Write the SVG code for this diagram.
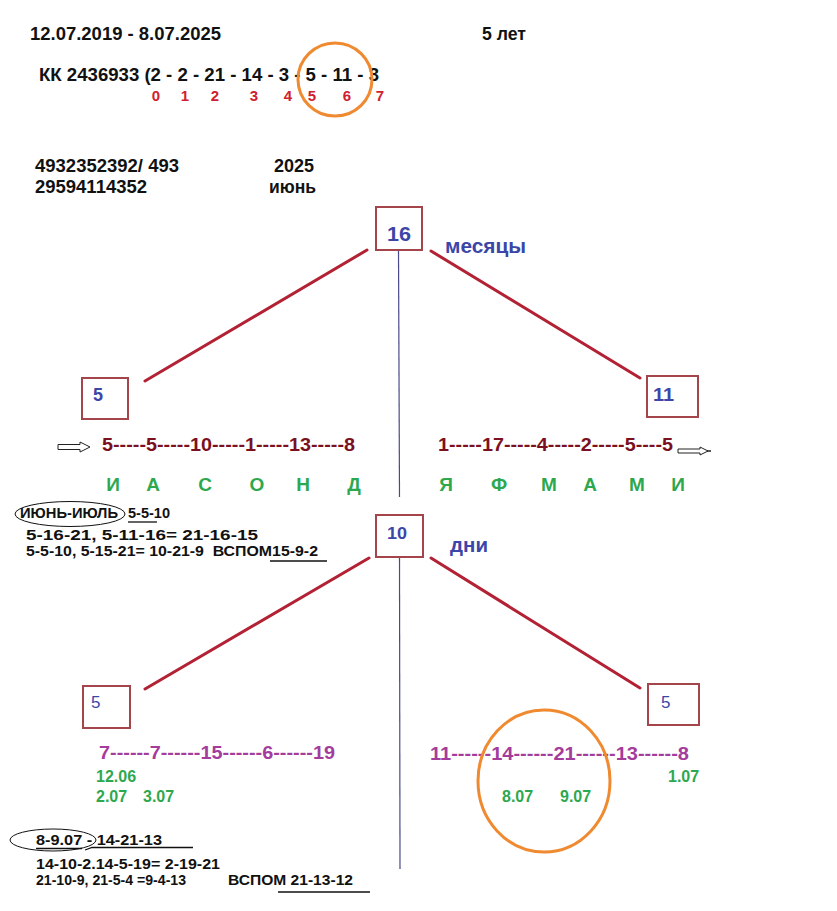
<svg xmlns="http://www.w3.org/2000/svg" width="837" height="911" viewBox="0 0 837 911">
<style>
text{font-family:"Liberation Sans",Arial,sans-serif;font-weight:bold}
.blk{fill:#111;font-size:19px}
.idx{fill:#d0202e;font-size:15px;text-anchor:middle}
.box{fill:#fff;stroke:#a3454b;stroke-width:2}
.bl{fill:#3b46a8}
.mar{fill:#7b1020;font-size:19px}
.grn{fill:#2ea84e;font-size:19px;text-anchor:middle}
.pur{fill:#a43c9c;font-size:19px}
.dt{fill:#2ea84e;font-size:16px}
.note{fill:#111;font-size:15px}
.red{stroke:#b22234;stroke-width:3;stroke-linecap:round;fill:none}
.vl{stroke:#4a4a8a;stroke-width:1.2}
.org{fill:none;stroke:#f08a30;stroke-width:3}
.ul{stroke:#111;stroke-width:1.3}
.ell{fill:none;stroke:#111;stroke-width:1}
</style>
<rect width="837" height="911" fill="#fff"/>

<g id="header">
<text class="blk" x="30" y="40" textLength="191" lengthAdjust="spacingAndGlyphs">12.07.2019 - 8.07.2025</text>
<text class="blk" x="482" y="40" textLength="44" lengthAdjust="spacingAndGlyphs">5 лет</text>
<text class="blk" x="39" y="81" textLength="340" lengthAdjust="spacingAndGlyphs">КК 2436933 (2 - 2 - 21 - 14 - 3 - 5 - 11 - 3</text>
<text class="idx" x="156" y="101">0</text>
<text class="idx" x="185" y="101">1</text>
<text class="idx" x="215" y="101">2</text>
<text class="idx" x="254" y="101">3</text>
<text class="idx" x="288" y="101">4</text>
<text class="idx" x="312" y="101">5</text>
<text class="idx" x="347" y="101">6</text>
<text class="idx" x="380" y="101">7</text>
<ellipse class="org" cx="335" cy="79.5" rx="37" ry="36.5"/>
<text class="blk" x="35" y="172" textLength="144" lengthAdjust="spacingAndGlyphs">4932352392/ 493</text>
<text class="blk" x="35" y="193" textLength="112" lengthAdjust="spacingAndGlyphs">29594114352</text>
<text class="blk" x="274" y="172" textLength="40" lengthAdjust="spacingAndGlyphs">2025</text>
<text class="blk" x="269" y="193" textLength="47" lengthAdjust="spacingAndGlyphs">июнь</text>
</g>

<g id="connectors">
<line class="vl" x1="398.5" y1="250" x2="399.5" y2="497"/>
<line class="vl" x1="399.5" y1="557" x2="400" y2="869"/>
<line class="red" x1="367" y1="250" x2="145" y2="381"/>
<line class="red" x1="431" y1="251" x2="640" y2="378"/>
<line class="red" x1="369" y1="558" x2="145" y2="689"/>
<line class="red" x1="431" y1="558" x2="640" y2="688"/>
</g>

<g id="node-16">
<rect class="box" x="376" y="207" width="46" height="43"/>
<text class="bl" x="387" y="241" font-size="20" textLength="24" lengthAdjust="spacingAndGlyphs">16</text>
<text class="bl" x="445" y="253" font-size="20" textLength="81" lengthAdjust="spacingAndGlyphs">месяцы</text>
</g>

<g id="node-5-top">
<rect class="box" x="82" y="378" width="46" height="41"/>
<text class="bl" x="93" y="401" font-size="18">5</text>
</g>

<g id="node-11">
<rect class="box" x="647" y="376" width="51" height="41"/>
<text class="bl" x="653" y="401" font-size="18" textLength="21" lengthAdjust="spacingAndGlyphs">11</text>
</g>

<g id="months">
<polygon points="58,444.5 80,444.5 80,442 90,447 80,452 80,449.5 58,449.5" fill="#fff" stroke="#222" stroke-width="1"/>
<text class="mar" x="102" y="451" textLength="253" lengthAdjust="spacingAndGlyphs">5-----5-----10-----1-----13-----8</text>
<text class="mar" x="438" y="451" textLength="235" lengthAdjust="spacingAndGlyphs">1-----17-----4-----2-----5----5</text>
<polygon points="678,449 700,449 700,447 708,451 700,455 700,453 678,453" fill="#fff" stroke="#222" stroke-width="1"/>
<line x1="707" y1="451" x2="711" y2="451" stroke="#222" stroke-width="1.5"/>
<text class="grn" x="113" y="491">И</text>
<text class="grn" x="153" y="491">А</text>
<text class="grn" x="205" y="491">С</text>
<text class="grn" x="257" y="491">О</text>
<text class="grn" x="303" y="491">Н</text>
<text class="grn" x="354" y="491">Д</text>
<text class="grn" x="446" y="491">Я</text>
<text class="grn" x="499" y="491">Ф</text>
<text class="grn" x="549" y="491">М</text>
<text class="grn" x="590" y="491">А</text>
<text class="grn" x="637" y="491">М</text>
<text class="grn" x="678" y="491">И</text>
</g>

<g id="notes-1">
<ellipse class="ell" cx="70" cy="514" rx="55" ry="12.5"/>
<text class="note" x="20" y="518" font-size="14" textLength="98" lengthAdjust="spacingAndGlyphs">ИЮНЬ-ИЮЛЬ</text>
<text class="note" x="128" y="518" font-size="14" textLength="42" lengthAdjust="spacingAndGlyphs">5-5-10</text>
<line class="ul" x1="128" y1="522" x2="157" y2="522"/>
<text class="note" x="26" y="540" textLength="232" lengthAdjust="spacingAndGlyphs">5-16-21, 5-11-16= 21-16-15</text>
<text class="note" x="26" y="556" textLength="292" lengthAdjust="spacingAndGlyphs">5-5-10, 5-15-21= 10-21-9 &#160;ВСПОМ15-9-2</text>
<line class="ul" x1="270" y1="561" x2="327" y2="561"/>
</g>

<g id="node-10">
<rect class="box" x="376" y="515" width="47" height="42"/>
<text class="bl" x="387" y="539" font-size="17" textLength="20" lengthAdjust="spacingAndGlyphs">10</text>
<text class="bl" x="450" y="552" font-size="20" textLength="38" lengthAdjust="spacingAndGlyphs">дни</text>
</g>

<g id="node-5-left">
<rect class="box" x="83" y="686" width="47" height="42"/>
<text class="bl" x="91" y="708" font-size="17" style="font-weight:normal">5</text>
</g>

<g id="node-5-right">
<rect class="box" x="648" y="684" width="51" height="41"/>
<text class="bl" x="661" y="708" font-size="17" style="font-weight:normal">5</text>
</g>

<g id="days">
<text class="pur" x="99" y="759" textLength="236" lengthAdjust="spacingAndGlyphs">7------7------15------6------19</text>
<text class="pur" x="430" y="760" textLength="259" lengthAdjust="spacingAndGlyphs">11------14------21------13------8</text>
<text class="dt" x="96" y="782">12.06</text>
<text class="dt" x="96" y="802">2.07</text>
<text class="dt" x="143" y="802">3.07</text>
<text class="dt" x="668" y="782">1.07</text>
<text class="dt" x="502" y="802">8.07</text>
<text class="dt" x="560" y="802">9.07</text>
<ellipse class="org" cx="544" cy="781" rx="66" ry="71" stroke-width="2.2"/>
</g>

<g id="notes-2">
<ellipse class="ell" cx="53" cy="840" rx="43" ry="11"/>
<text class="note" x="36" y="845" textLength="126" lengthAdjust="spacingAndGlyphs">8-9.07 - 14-21-13</text>
<line class="ul" x1="36" y1="848.5" x2="82" y2="848.5"/>
<polyline class="ul" fill="none" points="85,850 92,847.5 193,847.5"/>
<text class="note" x="36" y="869" textLength="184" lengthAdjust="spacingAndGlyphs">14-10-2.14-5-19= 2-19-21</text>
<text class="note" x="36" y="885" textLength="150" lengthAdjust="spacingAndGlyphs">21-10-9, 21-5-4 =9-4-13</text>
<text class="note" x="228" y="885" textLength="125" lengthAdjust="spacingAndGlyphs">ВСПОМ 21-13-12</text>
<line class="ul" x1="278" y1="892" x2="370" y2="892"/>
</g>
</svg>
